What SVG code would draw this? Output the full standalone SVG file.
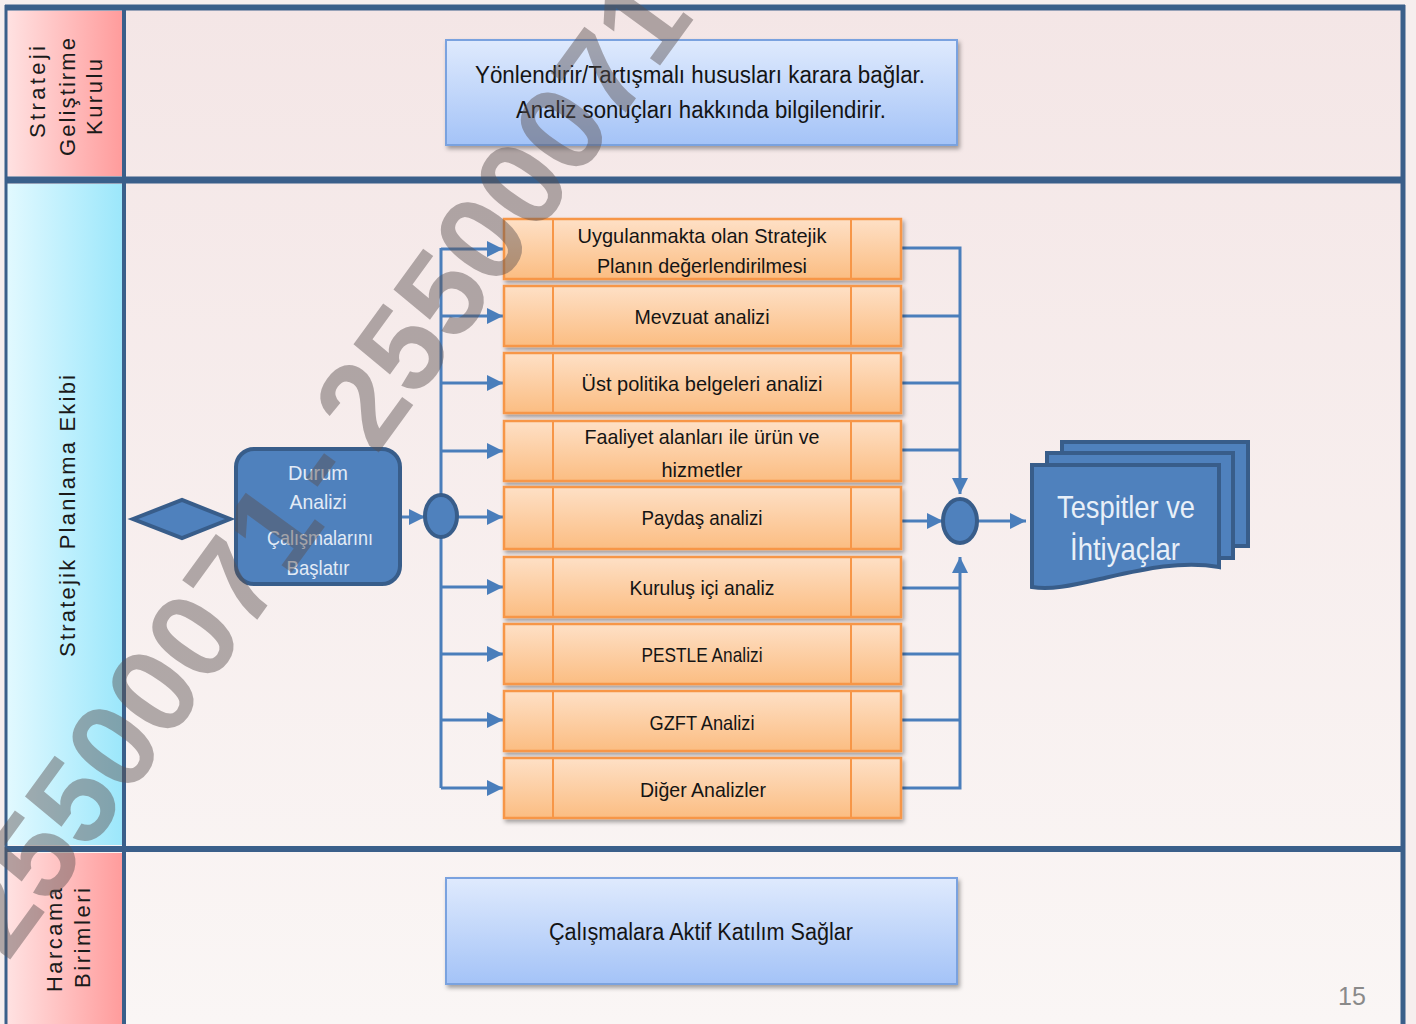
<svg xmlns="http://www.w3.org/2000/svg" width="1416" height="1024" viewBox="0 0 1416 1024">
<defs>
<linearGradient id="bg" x1="0" y1="0" x2="0" y2="1"><stop offset="0" stop-color="#f4e6e6"/><stop offset="1" stop-color="#faf6f5"/></linearGradient>
<linearGradient id="pink" x1="0" y1="0" x2="1" y2="0"><stop offset="0" stop-color="#ffe2e2"/><stop offset="1" stop-color="#ff9c9c"/></linearGradient>
<linearGradient id="cyan" x1="0" y1="0" x2="1" y2="0"><stop offset="0" stop-color="#e2f9ff"/><stop offset="1" stop-color="#9ce7fb"/></linearGradient>
<linearGradient id="lblue" x1="0" y1="0" x2="0" y2="1"><stop offset="0" stop-color="#dfeafd"/><stop offset="1" stop-color="#a4c3f7"/></linearGradient>
<linearGradient id="orange" x1="0" y1="0" x2="0" y2="1"><stop offset="0" stop-color="#fee0c6"/><stop offset="1" stop-color="#fbbd82"/></linearGradient>
<filter id="sh" x="-10%" y="-10%" width="130%" height="140%"><feDropShadow dx="2" dy="3" stdDeviation="2" flood-color="#000" flood-opacity="0.35"/></filter>
<marker id="ah" markerUnits="userSpaceOnUse" markerWidth="16" markerHeight="16" refX="16" refY="8" orient="auto"><path d="M0,0 L16,8 L0,16 Z" fill="#4a7ebb"/></marker>
<style>
.t{font-family:"Liberation Sans",Arial,sans-serif;fill:#141414;text-anchor:middle}
.lab{font-family:"Liberation Sans",Arial,sans-serif;font-size:22px;fill:#1a1a1a;text-anchor:middle}
.ob{fill:url(#orange);stroke:#f79646;stroke-width:2.5}
.ol{stroke:#f79646;stroke-width:2}
.con{fill:none;stroke:#4a7ebb;stroke-width:3}
.bl{fill:#4f81bd;stroke:#385d8a;stroke-width:4}
.lb{fill:url(#lblue);stroke:#7aa2df;stroke-width:2}
.frame{stroke:#3a5f8a;fill:none}
.wt{font-family:"Liberation Sans",Arial,sans-serif;font-weight:bold;font-size:122px;fill:#5a5050;opacity:0.45}
</style>
</defs>
<rect x="0" y="0" width="1416" height="1024" fill="#f6eeee"/>
<rect x="5" y="7" width="1400" height="1017" fill="url(#bg)"/>
<g id="lanes">
<rect x="7" y="11" width="115" height="165" fill="url(#pink)"/>
<rect x="7" y="184" width="115" height="661" fill="url(#cyan)"/>
<rect x="7" y="853" width="115" height="171" fill="url(#pink)"/>
<line class="frame" x1="5" y1="7.5" x2="1405" y2="7.5" stroke-width="6"/>
<line class="frame" x1="5" y1="180" x2="1405" y2="180" stroke-width="7"/>
<line class="frame" x1="5" y1="849" x2="1405" y2="849" stroke-width="6"/>
<line class="frame" x1="6" y1="5" x2="6" y2="1024" stroke-width="3"/>
<line class="frame" x1="124" y1="5" x2="124" y2="1024" stroke-width="4"/>
<line class="frame" x1="1403" y1="5" x2="1403" y2="1024" stroke-width="5"/>
<text class="lab" transform="translate(45,92) rotate(-90)" textLength="92">Strateji</text>
<text class="lab" transform="translate(75,97) rotate(-90)" textLength="118">Geliştirme</text>
<text class="lab" transform="translate(102,97) rotate(-90)" textLength="76">Kurulu</text>
<text class="lab" transform="translate(75,516) rotate(-90)" textLength="282">Stratejik Planlama Ekibi</text>
<text class="lab" transform="translate(62,940) rotate(-90)" textLength="104">Harcama</text>
<text class="lab" transform="translate(90,938) rotate(-90)" textLength="100">Birimleri</text>
</g>
<g id="top-box">
<rect class="lb" x="446" y="40" width="511" height="105" filter="url(#sh)"/>
<text class="t" x="700" y="83" font-size="23" textLength="450" lengthAdjust="spacingAndGlyphs">Yönlendirir/Tartışmalı hususları karara bağlar.</text>
<text class="t" x="701" y="118" font-size="23" textLength="370" lengthAdjust="spacingAndGlyphs">Analiz sonuçları hakkında bilgilendirir.</text>
</g>
<g id="bottom-box">
<rect class="lb" x="446" y="878" width="511" height="106" filter="url(#sh)"/>
<text class="t" x="701" y="940" font-size="23" textLength="304" lengthAdjust="spacingAndGlyphs">Çalışmalara Aktif Katılım Sağlar</text>
</g>
<g id="connectors">
<line class="con" x1="441" y1="248" x2="441" y2="788"/>
<line class="con" x1="441" y1="249" x2="503" y2="249" marker-end="url(#ah)"/>
<line class="con" x1="441" y1="316" x2="503" y2="316" marker-end="url(#ah)"/>
<line class="con" x1="441" y1="383" x2="503" y2="383" marker-end="url(#ah)"/>
<line class="con" x1="441" y1="451" x2="503" y2="451" marker-end="url(#ah)"/>
<line class="con" x1="441" y1="517" x2="503" y2="517" marker-end="url(#ah)"/>
<line class="con" x1="441" y1="587" x2="503" y2="587" marker-end="url(#ah)"/>
<line class="con" x1="441" y1="654" x2="503" y2="654" marker-end="url(#ah)"/>
<line class="con" x1="441" y1="720" x2="503" y2="720" marker-end="url(#ah)"/>
<line class="con" x1="441" y1="788" x2="503" y2="788" marker-end="url(#ah)"/>
<line class="con" x1="400" y1="517" x2="425" y2="517" marker-end="url(#ah)"/>
<polyline class="con" points="901,248 960,248 960,494" marker-end="url(#ah)"/>
<line class="con" x1="901" y1="316" x2="960" y2="316"/>
<line class="con" x1="901" y1="383" x2="960" y2="383"/>
<line class="con" x1="901" y1="450" x2="960" y2="450"/>
<polyline class="con" points="901,788 960,788 960,557" marker-end="url(#ah)"/>
<line class="con" x1="901" y1="588" x2="960" y2="588"/>
<line class="con" x1="901" y1="654" x2="960" y2="654"/>
<line class="con" x1="897" y1="720" x2="960" y2="720"/>
<line class="con" x1="901" y1="521" x2="943" y2="521" marker-end="url(#ah)"/>
<line class="con" x1="977" y1="521" x2="1026" y2="521" marker-end="url(#ah)"/>
</g>
<g id="start-diamond"><polygon class="bl" points="133,519 182,500 230,519 182,538"/></g>
<g id="durum">
<rect class="bl" x="236" y="449" width="164" height="135" rx="18"/>
<g class="t" font-size="21" style="fill:#e3ebf6">
<text x="318" y="480" textLength="60" lengthAdjust="spacingAndGlyphs">Durum</text>
<text x="318" y="509" textLength="57" lengthAdjust="spacingAndGlyphs">Analizi</text>
<text x="320" y="545" textLength="106" lengthAdjust="spacingAndGlyphs">Çalışmalarını</text>
<text x="318" y="575" textLength="63" lengthAdjust="spacingAndGlyphs">Başlatır</text>
</g>
</g>
<g id="split-circle"><ellipse class="bl" cx="441" cy="516" rx="16" ry="21" stroke-width="3.5"/></g>
<g id="merge-circle"><ellipse class="bl" cx="960" cy="521" rx="17" ry="22" stroke-width="3.5"/></g>
<g id="analyses" class="t" font-size="21">
<g id="a1" filter="url(#sh)"><rect class="ob" x="504" y="219" width="397" height="60"/><line class="ol" x1="553" y1="220" x2="553" y2="278"/><line class="ol" x1="851" y1="220" x2="851" y2="278"/></g>
<text x="702" y="243" textLength="249" lengthAdjust="spacingAndGlyphs">Uygulanmakta olan Stratejik</text>
<text x="702" y="273" textLength="210" lengthAdjust="spacingAndGlyphs">Planın değerlendirilmesi</text>
<g id="a2" filter="url(#sh)"><rect class="ob" x="504" y="286" width="397" height="60"/><line class="ol" x1="553" y1="287" x2="553" y2="345"/><line class="ol" x1="851" y1="287" x2="851" y2="345"/></g>
<text x="702" y="324" textLength="135" lengthAdjust="spacingAndGlyphs">Mevzuat analizi</text>
<g id="a3" filter="url(#sh)"><rect class="ob" x="504" y="353" width="397" height="60"/><line class="ol" x1="553" y1="354" x2="553" y2="412"/><line class="ol" x1="851" y1="354" x2="851" y2="412"/></g>
<text x="702" y="391" textLength="241" lengthAdjust="spacingAndGlyphs">Üst politika belgeleri analizi</text>
<g id="a4" filter="url(#sh)"><rect class="ob" x="504" y="421" width="397" height="60"/><line class="ol" x1="553" y1="422" x2="553" y2="480"/><line class="ol" x1="851" y1="422" x2="851" y2="480"/></g>
<text x="702" y="444" textLength="235" lengthAdjust="spacingAndGlyphs">Faaliyet alanları ile ürün ve</text>
<text x="702" y="477" textLength="81" lengthAdjust="spacingAndGlyphs">hizmetler</text>
<g id="a5" filter="url(#sh)"><rect class="ob" x="504" y="487" width="397" height="62"/><line class="ol" x1="553" y1="488" x2="553" y2="548"/><line class="ol" x1="851" y1="488" x2="851" y2="548"/></g>
<text x="702" y="525" textLength="121" lengthAdjust="spacingAndGlyphs">Paydaş analizi</text>
<g id="a6" filter="url(#sh)"><rect class="ob" x="504" y="557" width="397" height="60"/><line class="ol" x1="553" y1="558" x2="553" y2="616"/><line class="ol" x1="851" y1="558" x2="851" y2="616"/></g>
<text x="702" y="595" textLength="145" lengthAdjust="spacingAndGlyphs">Kuruluş içi analiz</text>
<g id="a7" filter="url(#sh)"><rect class="ob" x="504" y="624" width="397" height="60"/><line class="ol" x1="553" y1="625" x2="553" y2="683"/><line class="ol" x1="851" y1="625" x2="851" y2="683"/></g>
<text x="702" y="662" textLength="121" lengthAdjust="spacingAndGlyphs">PESTLE Analizi</text>
<g id="a8" filter="url(#sh)"><rect class="ob" x="504" y="691" width="397" height="60"/><line class="ol" x1="553" y1="692" x2="553" y2="750"/><line class="ol" x1="851" y1="692" x2="851" y2="750"/></g>
<text x="702" y="730" textLength="105" lengthAdjust="spacingAndGlyphs">GZFT Analizi</text>
<g id="a9" filter="url(#sh)"><rect class="ob" x="504" y="758" width="397" height="60"/><line class="ol" x1="553" y1="759" x2="553" y2="817"/><line class="ol" x1="851" y1="759" x2="851" y2="817"/></g>
<text x="703" y="797" textLength="126" lengthAdjust="spacingAndGlyphs">Diğer Analizler</text>
</g>
<g id="tespitler">
<rect class="bl" x="1062" y="442" width="186" height="104"/>
<rect class="bl" x="1047" y="453" width="186" height="105"/>
<path class="bl" d="M1032,465 H1219 V567 C1180,560 1140,570 1100,579 C1070,586 1050,590 1032,587 Z"/>
<text class="t" x="1126" y="518" font-size="32" textLength="138" lengthAdjust="spacingAndGlyphs" style="fill:#e8eff8">Tespitler ve</text>
<text class="t" x="1125" y="560" font-size="32" textLength="110" lengthAdjust="spacingAndGlyphs" style="fill:#e8eff8">İhtiyaçlar</text>
</g>
<text x="1352" y="1005" font-family="Liberation Sans, Arial, sans-serif" font-size="25" fill="#8a8a8a" text-anchor="middle">15</text>
<g id="watermark" transform="translate(318,468) rotate(-54)">
<text class="wt" x="-40" y="40" text-anchor="end">25500071</text>
<text class="wt" x="0" y="35" text-anchor="middle">-</text>
<text class="wt" x="44" y="40" text-anchor="start">25500071</text>
</g>
</svg>
